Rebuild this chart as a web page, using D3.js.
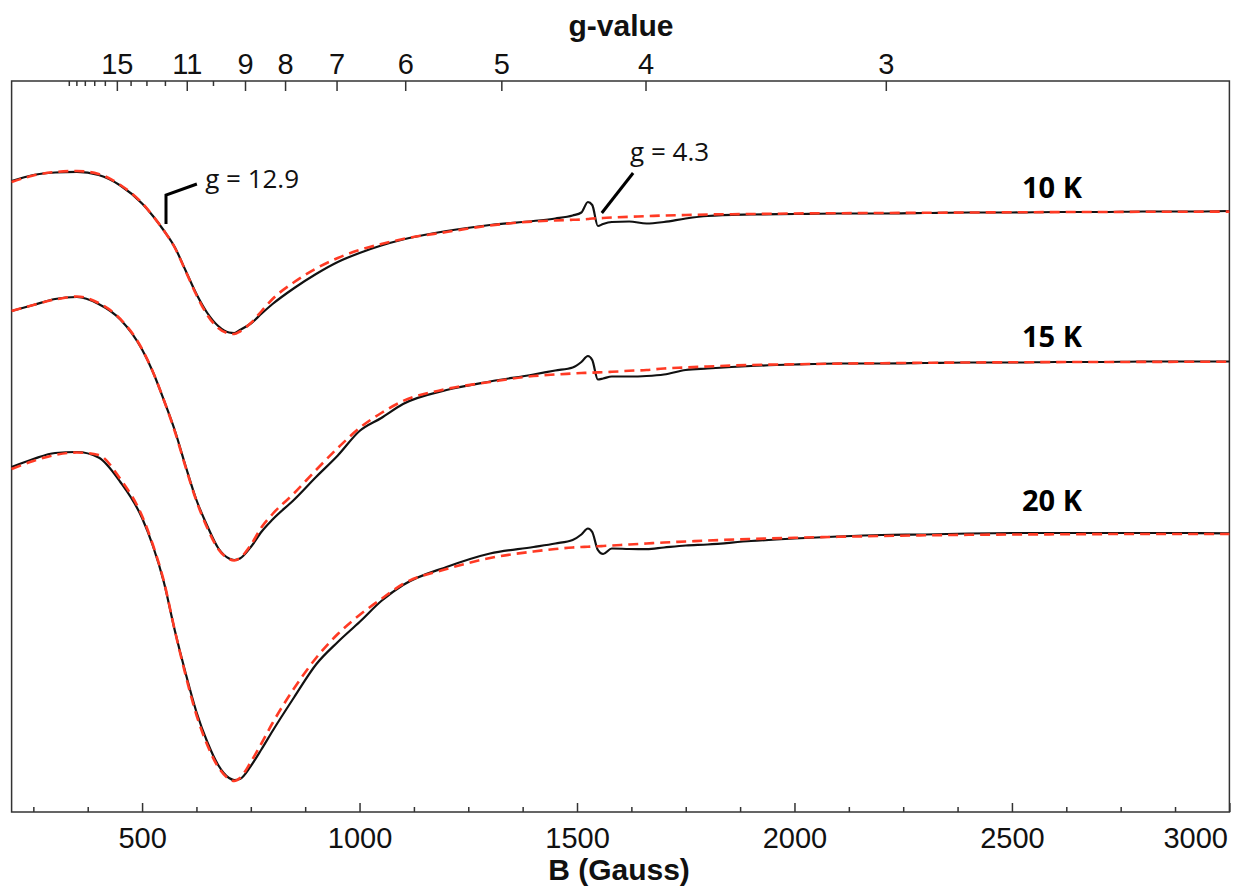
<!DOCTYPE html>
<html>
<head>
<meta charset="utf-8">
<script src="https://cdn.jsdelivr.net/npm/d3@7"></script>
<style>
  html, body { margin: 0; padding: 0; background: #fff; }
  svg { display: block; }
</style>
</head>
<body>
<svg id="chart" width="1245" height="888"></svg>
<script>
// ---------------- DATA ----------------
// Magnetic field (Gauss)
const fieldB = [200,250,300,350,400,450,500,525,550,575,600,625,650,675,700,712,725,750,775,800,
  850,900,950,1000,1050,1100,1200,1300,1400,1450,1490,1510,1525,1535,1548,1560,1580,
  1620,1660,1700,1750,1800,1900,2000,2100,2200,2300,2400,2500,2600,2700,2800,2900,3000];

// EPR derivative signal (a.u.), relative to each spectrum's baseline
const exp10K = [31,37,39.5,40.2,37,26.5,8.5,-4,-18.5,-35,-58.5,-82,-101,-114,-120.5,-121,-118,-111.5,-101.5,-92,
  -76,-62,-50,-41,-33.5,-27.5,-19,-13,-9,-6.5,-3.5,-0.5,10,7,-14,-12,-10,
  -9.5,-11.5,-10,-6.5,-4,-2.5,-2,-1.5,-1.5,-1,-0.5,-0.5,0,0,0.5,0.5,1];
const fit10K = [30,36.5,40,41,38,27,9,-4,-18.5,-35.5,-59,-83,-103,-116,-121.5,-122,-119.5,-111,-99,-87,
  -70,-56.5,-46,-38,-32,-27,-20,-13.5,-9.5,-8.5,-7.8,-7.5,-7,-6.5,-6.3,-6,-5.5,
  -4.8,-4.2,-3.5,-3,-2.5,-2,-1.5,-1.2,-1,-0.8,-0.5,-0.3,-0.1,0,0.2,0.3,0.4];

const exp15K = [51,57,63,65,58,42.5,12.5,-10,-38,-68,-104,-138,-164,-186,-196.5,-198,-196.5,-185,-169.5,-157.5,
  -137.5,-115,-93.5,-69,-56,-42,-28,-19.5,-12.5,-8.5,-5.5,0,6,2,-17.5,-16.5,-14.5,
  -14.5,-14,-12.5,-8,-6.5,-4,-2.5,-1.5,-1.5,-1,-0.5,-0.5,0,0,0.5,0.5,0.5];
const fit15K = [51,57,62.5,65.5,59,43,13,-10,-38,-69,-105,-139,-166,-187,-197,-198.5,-196,-183,-165,-152,
  -131,-108,-86,-66,-51,-39,-27,-20,-14,-12.5,-11.5,-11,-10.8,-10.6,-10.4,-10.2,-9.8,
  -8.8,-8,-6.5,-5.5,-4.5,-3,-2.3,-1.6,-1.2,-0.8,-0.5,-0.3,-0.1,0,0.1,0.2,0.3];

const exp20K = [67,75,81,82,76.5,52,16,-12,-48,-96,-139,-178,-208,-231,-244,-246,-245,-232,-215,-197,
  -163,-130.5,-108,-88,-67,-51,-33,-19.5,-13,-9.5,-6,-0.5,5.5,2,-16,-20,-14.5,
  -15,-15.2,-13.5,-11.5,-10.5,-7,-4.5,-2.5,-1,-0.5,0.5,1,1,1,1,1,0.7];
const fit20K = [65,73,79,81.5,79,55,18,-11,-47,-96,-141,-181,-211,-233,-245,-247,-244,-228,-209,-189,
  -154,-124,-100,-81,-65,-50,-35,-24,-17.5,-15,-13.5,-13,-12.8,-12.5,-12.3,-12,-11.5,
  -10.5,-9.5,-8.5,-7.5,-6.5,-5,-3.8,-2.8,-2,-1.3,-0.8,-0.5,-0.3,-0.1,0,0,0];

const tempLabels = ["10 K", "15 K", "20 K"];
const offsets = [600, 450, 278];           // vertical stacking offsets (a.u.)
const labelLevels = [614, 465, 301];       // label baseline positions (a.u.)
const labelField = 2523;                   // label left edge (Gauss)

// axis ticks
const bMajorTicks = [500, 1000, 1500, 2000, 2500, 3000];
const bMinorTicks = [250, 375, 625, 750, 875, 1125, 1250, 1375, 1625, 1750, 1875, 2125, 2250, 2375, 2625, 2750, 2875];
const gMajorTicks = [15, 11, 9, 8, 7, 6, 5, 4, 3];
const gMinorTicks = [20, 19, 18, 17, 16, 14, 13, 12, 10];
const gConst = 6630;   // B(G) * g  (h*nu / muB at ~9.3 GHz)

// annotations (B in Gauss, level in a.u.)
const bracket129 = [[555, 588], [555, 617], [626, 628]];
const text129 = {B: 645, v: 624, text: "g = 12.9"};
const line43 = [[1557, 599], [1629, 639]];
const text43 = {B: 1622, v: 651, text: "g = 4.3"};

// ---------------- DRAW ----------------
const svg = d3.select("#chart");
const W = 1245, H = 888;
svg.append("rect").attr("width", W).attr("height", H).attr("fill", "#fff");

const x = d3.scaleLinear().domain([200, 3000]).range([11.6, 1229.4]);
const y = d3.scaleLinear().domain([0, 731]).range([812, 81]);
const yTop = y.range()[1], yBottom = y.range()[0];
const axisColor = "#333";
const axisFont = "'Liberation Sans', Arial, Helvetica, sans-serif";
const annFont = "'Open Sans', 'Noto Sans', sans-serif";

// Bottom axis (ticks inward)
const bAxis = svg.append("g").attr("transform", `translate(0,${yBottom})`)
  .call(d3.axisBottom(x).tickValues(bMajorTicks).tickFormat(d3.format("d"))
    .tickSizeInner(-9).tickSizeOuter(0).tickPadding(15));
const bMinor = svg.append("g").attr("transform", `translate(0,${yBottom})`)
  .call(d3.axisBottom(x).tickValues(bMinorTicks).tickSizeInner(-5).tickSizeOuter(0).tickFormat(""));

// Top axis: g-values
const gAxis = svg.append("g").attr("transform", `translate(0,${yTop})`)
  .call(d3.axisTop(x).tickValues(gMajorTicks.map(g => gConst / g)).tickSizeInner(-10).tickSizeOuter(0)
    .tickPadding(7).tickFormat(b => String(Math.round(gConst / b))));
const gMinor = svg.append("g").attr("transform", `translate(0,${yTop})`)
  .call(d3.axisTop(x).tickValues(gMinorTicks.map(g => gConst / g)).tickSizeInner(-5).tickSizeOuter(0).tickFormat(""));

[bAxis, bMinor, gAxis, gMinor].forEach(a => {
  a.select(".domain").remove();
  a.selectAll("line").attr("stroke", axisColor).attr("stroke-width", 1.5);
  a.selectAll("text").attr("font-family", axisFont).attr("font-size", 29).attr("fill", "#111");
});
// last bottom label is pushed inside the frame
bAxis.selectAll(".tick").filter(d => d === 3000).select("text")
  .attr("text-anchor", "end").attr("x", -2);

// Frame
svg.append("rect")
  .attr("x", x(200)).attr("y", yTop)
  .attr("width", x(3000) - x(200)).attr("height", yBottom - yTop)
  .attr("fill", "none").attr("stroke", axisColor).attr("stroke-width", 1.5);

// Axis titles
svg.append("text").attr("x", 621).attr("y", 36).attr("text-anchor", "middle")
  .attr("font-family", axisFont).attr("font-weight", "bold").attr("font-size", 30).attr("fill", "#111")
  .text("g-value");
svg.append("text").attr("x", 619).attr("y", 880).attr("text-anchor", "middle")
  .attr("font-family", axisFont).attr("font-weight", "bold").attr("font-size", 30).attr("fill", "#111")
  .text("B (Gauss)");

// Spectra
const expSeries = [exp10K, exp15K, exp20K];
const fitSeries = [fit10K, fit15K, fit20K];
const plot = svg.append("g");

expSeries.forEach((vals, i) => {
  const line = d3.line().x((d, j) => x(fieldB[j])).y(d => y(d + offsets[i])).curve(d3.curveMonotoneX);
  plot.append("path").datum(vals).attr("d", line)
    .attr("fill", "none").attr("stroke", "#111").attr("stroke-width", 2.2).attr("stroke-linejoin", "round");
});
fitSeries.forEach((vals, i) => {
  const line = d3.line().x((d, j) => x(fieldB[j])).y(d => y(d + offsets[i])).curve(d3.curveMonotoneX);
  plot.append("path").datum(vals).attr("d", line)
    .attr("fill", "none").attr("stroke", "#ff3a24").attr("stroke-width", 2.6)
    .attr("stroke-dasharray", "10,6");
});

// Temperature labels
tempLabels.forEach((t, i) => {
  svg.append("text").attr("x", x(labelField)).attr("y", y(labelLevels[i]))
    .attr("font-family", annFont).attr("font-weight", "bold").attr("font-size", 29).attr("fill", "#000")
    .text(t);
});

// Annotations
const annLine = d3.line().x(d => x(d[0])).y(d => y(d[1]));
svg.append("path").datum(bracket129).attr("d", annLine)
  .attr("fill", "none").attr("stroke", "#000").attr("stroke-width", 3);
svg.append("path").datum(line43).attr("d", annLine)
  .attr("fill", "none").attr("stroke", "#000").attr("stroke-width", 3);
[text129, text43].forEach(a => {
  svg.append("text").attr("x", x(a.B)).attr("y", y(a.v))
    .attr("font-family", annFont).attr("font-size", 26).attr("fill", "#111").text(a.text);
});
</script>
</body>
</html>
